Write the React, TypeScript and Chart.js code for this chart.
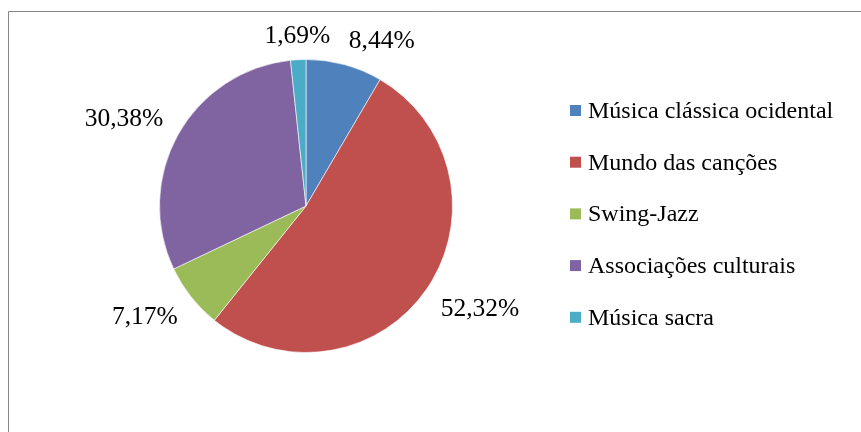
import React, { useEffect, useRef } from "react";
import { Chart, ArcElement, PieController } from "chart.js";

Chart.register(ArcElement, PieController);

const categories = [
  "Música clássica ocidental",
  "Mundo das canções",
  "Swing-Jazz",
  "Associações culturais",
  "Música sacra",
];
const shares = [8.44, 52.32, 7.17, 30.38, 1.69];
const valueLabels = ["8,44%", "52,32%", "7,17%", "30,38%", "1,69%"];
const colors = ["#4F81BD", "#C0504D", "#9BBB59", "#8064A2", "#4BACC6"];

const SERIF = '"Liberation Serif", "Times New Roman", serif';

const framePlugin = {
  id: "frame",
  beforeDraw(chart: any) {
    const ctx = chart.ctx;
    ctx.save();
    ctx.fillStyle = "#ffffff";
    ctx.fillRect(0, 0, chart.width, chart.height);
    ctx.strokeStyle = "#868686";
    ctx.lineWidth = 1;
    ctx.beginPath();
    ctx.moveTo(8.5, chart.height);
    ctx.lineTo(8.5, 11.5);
    ctx.lineTo(chart.width, 11.5);
    ctx.stroke();
    ctx.restore();
  },
};

const labelPlugin = {
  id: "sliceLabels",
  afterDatasetsDraw(chart: any) {
    const ctx = chart.ctx;
    const meta = chart.getDatasetMeta(0);
    ctx.save();
    ctx.font = `25.5px ${SERIF}`;
    ctx.fillStyle = "#000000";
    ctx.textBaseline = "alphabetic";
    ctx.textAlign = "left";
    meta.data.forEach((arc: any, i: number) => {
      const p = arc.getProps(["x", "y", "startAngle", "endAngle", "outerRadius"], true);
      const mid = (p.startAngle + p.endAngle) / 2;
      const dx = Math.cos(mid);
      const dy = Math.sin(mid);
      const r = p.outerRadius + 17;
      const ax = p.x + dx * r;
      const ay = p.y + dy * r;
      const text = valueLabels[i];
      const m = ctx.measureText(text);
      const w = m.width;
      const h = m.actualBoundingBoxAscent;
      let left: number;
      if (Math.abs(dx) < 0.15) left = ax - w / 2;
      else if (dx > 0) left = ax;
      else left = ax - w;
      const baseline = dy > 0 ? ay + h : ay;
      ctx.fillText(text, left, baseline);
    });
    ctx.restore();
  },
};

const legendPlugin = {
  id: "sideLegend",
  afterDraw(chart: any) {
    const ctx = chart.ctx;
    const labels: string[] = chart.data.labels;
    const bg: string[] = chart.data.datasets[0].backgroundColor;
    const x0 = 570;
    const y0 = 110.5;
    const step = 51.7;
    const box = 11;
    ctx.save();
    ctx.font = `24px ${SERIF}`;
    ctx.textBaseline = "alphabetic";
    ctx.textAlign = "left";
    labels.forEach((lab, i) => {
      const cy = y0 + i * step;
      ctx.fillStyle = bg[i];
      ctx.fillRect(x0, cy - box / 2, box, box);
      ctx.fillStyle = "#000000";
      ctx.fillText(lab, x0 + box + 7, cy + 7.5);
    });
    ctx.restore();
  },
};

export default function App() {
  const ref = useRef<HTMLCanvasElement | null>(null);
  useEffect(() => {
    if (!ref.current) return;
    const chart = new Chart(ref.current, {
      type: "pie",
      data: {
        labels: categories,
        datasets: [
          {
            data: shares,
            backgroundColor: colors,
            borderColor: "#ffffff",
            borderWidth: 0.6,
          },
        ],
      },
      options: {
        responsive: false,
        animation: false,
        devicePixelRatio: 1,
        radius: 146.5,
        layout: { padding: { left: 0, right: 249, top: 0, bottom: 20 } },
        plugins: {
          legend: { display: false },
          tooltip: { enabled: false },
        },
        events: [],
      } as any,
      plugins: [framePlugin, labelPlugin, legendPlugin],
    });
    return () => chart.destroy();
  }, []);
  return (
    <div style={{ position: "absolute", left: 0, top: 0, width: 861, height: 432 }}>
      <canvas ref={ref} width={861} height={432} style={{ width: 861, height: 432, display: "block" }} />
    </div>
  );
}
